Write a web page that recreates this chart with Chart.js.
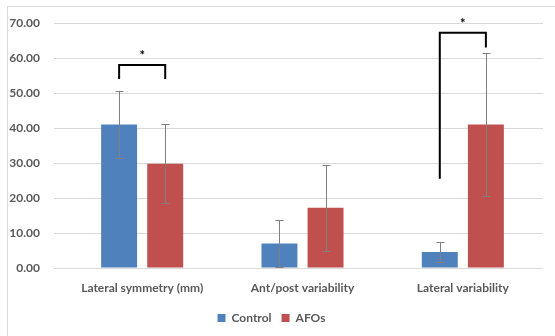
<!DOCTYPE html>
<html>
<head>
<meta charset="utf-8">
<script src="https://cdn.jsdelivr.net/npm/chart.js@4"></script>
<style>
  html, body { margin: 0; padding: 0; background: #fff; }
  #frame { position: absolute; left: 7px; top: 6px; width: 600px; height: 400px; border: 1px solid #d9d9d9; }
  #wrap { position: absolute; left: 0; top: 0; width: 555px; height: 336px; }
</style>
</head>
<body>
<div id="frame"></div>
<div id="wrap"><canvas id="gaitChart"></canvas></div>
<script>
// data
var categories = ['Lateral symmetry (mm)', 'Ant/post variability', 'Lateral variability'];
var controlMeans = [41.0, 7.0, 4.6];
var controlSD = [9.7, 6.7, 2.8];
var afoMeans = [29.8, 17.2, 41.0];
var afoSD = [11.3, 12.3, 20.5];
var yTicks = [0, 10, 20, 30, 40, 50, 60, 70];

// significance brackets: category, left leg end, right leg end, top
var bracketCats = [0, 2];
var bracketLeft = [54.0, 25.5];
var bracketRight = [54.0, 63.0];
var bracketTop = [58.0, 67.2];

var errorBars = {
  id: 'errorBars',
  afterDatasetsDraw: function(chart) {
    var ctx = chart.ctx;
    var y = chart.scales.y;
    var sds = [controlSD, afoSD];
    ctx.save();
    ctx.strokeStyle = '#7f7f7f';
    ctx.lineWidth = 1;
    chart.data.datasets.forEach(function(ds, d) {
      var meta = chart.getDatasetMeta(d);
      meta.data.forEach(function(bar, i) {
        var x = Math.round(bar.x) + 0.5;
        var hi = Math.round(y.getPixelForValue(ds.data[i] + sds[d][i])) + 0.5;
        var lo = Math.round(y.getPixelForValue(Math.max(0, ds.data[i] - sds[d][i]))) + 0.5;
        ctx.beginPath();
        ctx.moveTo(x, hi); ctx.lineTo(x, lo);
        ctx.moveTo(x - 4, hi); ctx.lineTo(x + 4, hi);
        ctx.moveTo(x - 4, lo); ctx.lineTo(x + 4, lo);
        ctx.stroke();
      });
    });
    // brackets
    ctx.strokeStyle = '#000';
    ctx.lineWidth = 2;
    ctx.fillStyle = '#000';
    ctx.font = 'bold 13px Lato';
    ctx.textAlign = 'center';
    ctx.textBaseline = 'middle';
    bracketCats.forEach(function(c, k) {
      var x1 = chart.getDatasetMeta(0).data[c].x;
      var x2 = chart.getDatasetMeta(1).data[c].x;
      var top = y.getPixelForValue(bracketTop[k]);
      ctx.beginPath();
      ctx.moveTo(x1, y.getPixelForValue(bracketLeft[k]));
      ctx.lineTo(x1, top);
      ctx.lineTo(x2, top);
      ctx.lineTo(x2, y.getPixelForValue(bracketRight[k]));
      ctx.stroke();
      ctx.fillText('*', (x1 + x2) / 2, top - 9);
    });
    ctx.restore();
  }
};

var ctx = document.getElementById('gaitChart').getContext('2d');
var gaitChart = new Chart(ctx, {
  type: 'bar',
  data: {
    labels: categories,
    datasets: [{
      label: 'Control',
      data: controlMeans,
      backgroundColor: '#4f81bd',
      categoryPercentage: 0.575,
      barPercentage: 0.78
    }, {
      label: 'AFOs',
      data: afoMeans,
      backgroundColor: '#c0504d',
      categoryPercentage: 0.575,
      barPercentage: 0.78
    }]
  },
  options: {
    responsive: true,
    maintainAspectRatio: false,
    animation: false,
    layout: { padding: { left: 0, right: 12, top: 23, bottom: 2 } },
    plugins: {
      legend: {
        position: 'bottom',
        labels: {
          boxWidth: 8, boxHeight: 8, padding: 10,
          color: '#595959',
          font: { family: 'Lato', size: 12, weight: 'bold' }
        }
      },
      tooltip: { enabled: false }
    },
    scales: {
      x: {
        grid: { display: false },
        border: { display: false },
        ticks: { color: '#595959', padding: 5, font: { family: 'Lato', size: 12, weight: 'bold' } },
        afterFit: function(s) { s.height = 34; }
      },
      y: {
        min: 0, max: 70,
        afterBuildTicks: function(s) { s.ticks = yTicks.map(function(v) { return { value: v }; }); },
        grid: { color: '#d9d9d9' },
        border: { display: false },
        ticks: {
          color: '#595959', padding: 14,
          font: { family: 'Lato', size: 12, weight: 'bold' },
          callback: function(v) { return v.toFixed(2); }
        },
        afterFit: function(s) { s.width = 62; }
      }
    }
  },
  plugins: [errorBars]
});
</script>
</body>
</html>
